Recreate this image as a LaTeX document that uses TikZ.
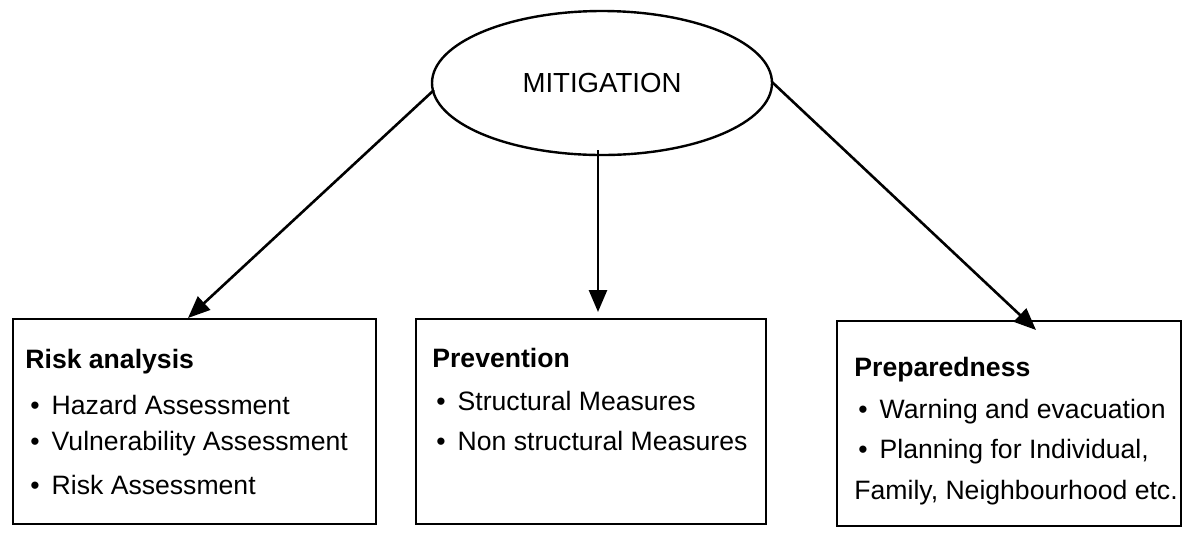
\documentclass[tikz,border=0pt]{standalone}
\usepackage{fontspec}
\setmainfont{Liberation Sans}
\usetikzlibrary{shapes.geometric,arrows.meta}
\begin{document}
\begin{tikzpicture}[x=0.5pt,y=-0.5pt,
  box/.style={draw,line width=1.2pt,minimum width=#1,minimum height=102.5pt,anchor=north west,inner sep=0pt},
  arr/.style={-{Triangle[length=11pt,width=9pt]},line width=1.3pt},
  txt/.style={anchor=west,font=\fontsize{13.3pt}{16pt}\selectfont,inner sep=0pt},
  head/.style={txt,font=\fontsize{13.3pt}{16pt}\selectfont\bfseries}]
\useasboundingbox (0,0) rectangle (1187,548);
\node[draw,ellipse,line width=1.2pt,minimum width=170pt,minimum height=72pt,font=\fontsize{13.8pt}{16pt}\selectfont] (m) at (602,83) {MITIGATION};
\node[box=181.5pt] (l) at (12,318) {};
\node[box=175pt] (c) at (415,318) {};
\node[box=172pt] (r) at (836,320) {};
\coordinate (lt) at (188,318);
\coordinate (ct) at (598,312);
\coordinate (rt) at (1036,330);
\coordinate (cm) at (598,150);
\coordinate (rm) at (772,82);
\coordinate (lm) at (434,90);
\draw[arr] (lm) -- (lt);
\draw[arr] (cm) -- (ct);
\draw[arr] (rm) -- (rt);
\node[head] (lh) at (25,362) {Risk analysis};
\node[txt] (l1) at (30,405) {\textbullet\hspace{6pt}Hazard Assessment};
\node[txt] (l2) at (30,444) {\textbullet\hspace{6pt}Vulnerability Assessment};
\node[txt] (l3) at (30,485) {\textbullet\hspace{6pt}Risk Assessment};
\node[head] (ch) at (432,358) {Prevention};
\node[txt] (c1) at (436,401) {\textbullet\hspace{6pt}Structural Measures};
\node[txt] (c2) at (436,441) {\textbullet\hspace{6pt}Non structural Measures};
\node[head] (rh) at (854,370) {Preparedness};
\node[txt] (r1) at (858,412) {\textbullet\hspace{6pt}Warning and evacuation};
\node[txt] (r2) at (858,452) {\textbullet\hspace{6pt}Planning for Individual,};
\node[txt] (r3) at (854,493) {Family, Neighbourhood etc.};
\end{tikzpicture}
\end{document}
